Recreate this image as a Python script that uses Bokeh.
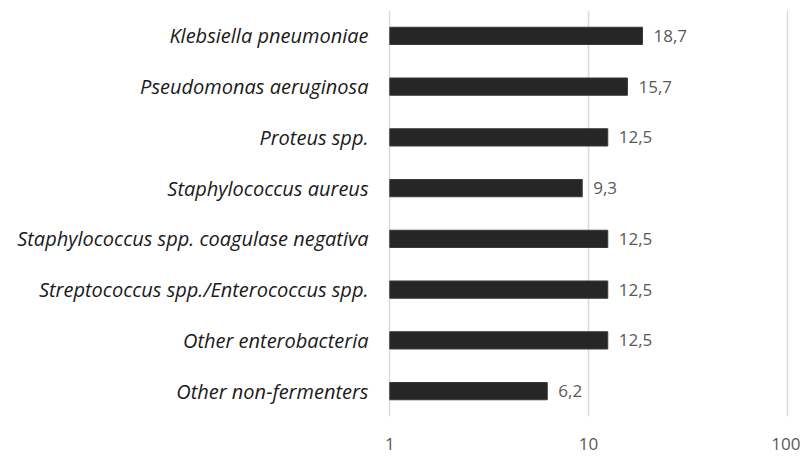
from bokeh.plotting import figure
from bokeh.models import FactorRange, FixedTicker, ColumnDataSource, Range1d, CustomJSTickFormatter
from bokeh.core.properties import value
from bokeh.embed import file_html
from bokeh.resources import INLINE

categories = ["Klebsiella pneumoniae", "Pseudomonas aeruginosa", "Proteus spp.",
              "Staphylococcus aureus", "Staphylococcus spp. coagulase negativa",
              "Streptococcus spp./Enterococcus spp.", "Other enterobacteria",
              "Other non-fermenters"]
values = [18.7, 15.7, 12.5, 9.3, 12.5, 12.5, 12.5, 6.2]
labels = ["18,7", "15,7", "12,5", "9,3", "12,5", "12,5", "12,5", "6,2"]
x_ticks = [1, 10, 100]

FONT = "Open Sans"

src = ColumnDataSource(dict(cat=categories, val=values, left=[1] * len(values), lab=labels))

p = figure(width=800, height=455, output_backend="svg", toolbar_location=None,
           x_axis_type="log", x_range=Range1d(0.985, 101.5),
           y_range=FactorRange(factors=list(reversed(categories)), range_padding=0),
           min_border_left=388, min_border_right=12, min_border_top=10, min_border_bottom=39)
p.outline_line_color = None
p.background_fill_color = "white"

p.hbar(y="cat", left="left", right="val", height=0.34, source=src,
       fill_color="#262626", line_color="#3a3a3a", line_width=1)
p.text(x="val", y="cat", text="lab", source=src, x_offset=11,
       text_baseline="middle", text_align="left", text_color="#595959",
       text_font=value(FONT), text_font_size="17px")

p.xaxis.ticker = FixedTicker(ticks=x_ticks)
p.xaxis.formatter = CustomJSTickFormatter(code="return String(Math.round(tick));")
p.xaxis.axis_line_color = None
p.xaxis.major_tick_line_color = None
p.xaxis.minor_tick_line_color = None
p.xaxis.major_label_text_font = FONT
p.xaxis.major_label_text_font_size = "17px"
p.xaxis.major_label_text_color = "#595959"
p.xaxis.major_label_standoff = 15

p.yaxis.axis_line_color = None
p.yaxis.major_tick_line_color = None
p.yaxis.minor_tick_line_color = None
p.yaxis.major_label_text_font = FONT
p.yaxis.major_label_text_font_style = "italic"
p.yaxis.major_label_text_font_size = "20px"
p.yaxis.major_label_text_color = "#1a1a1a"
p.yaxis.major_label_standoff = 14

p.ygrid.grid_line_color = None
p.xgrid.grid_line_color = "#d9d9d9"
p.xgrid.grid_line_width = 1.5
p.xgrid.minor_grid_line_color = None

open("out.html", "w").write(file_html(p, INLINE))
